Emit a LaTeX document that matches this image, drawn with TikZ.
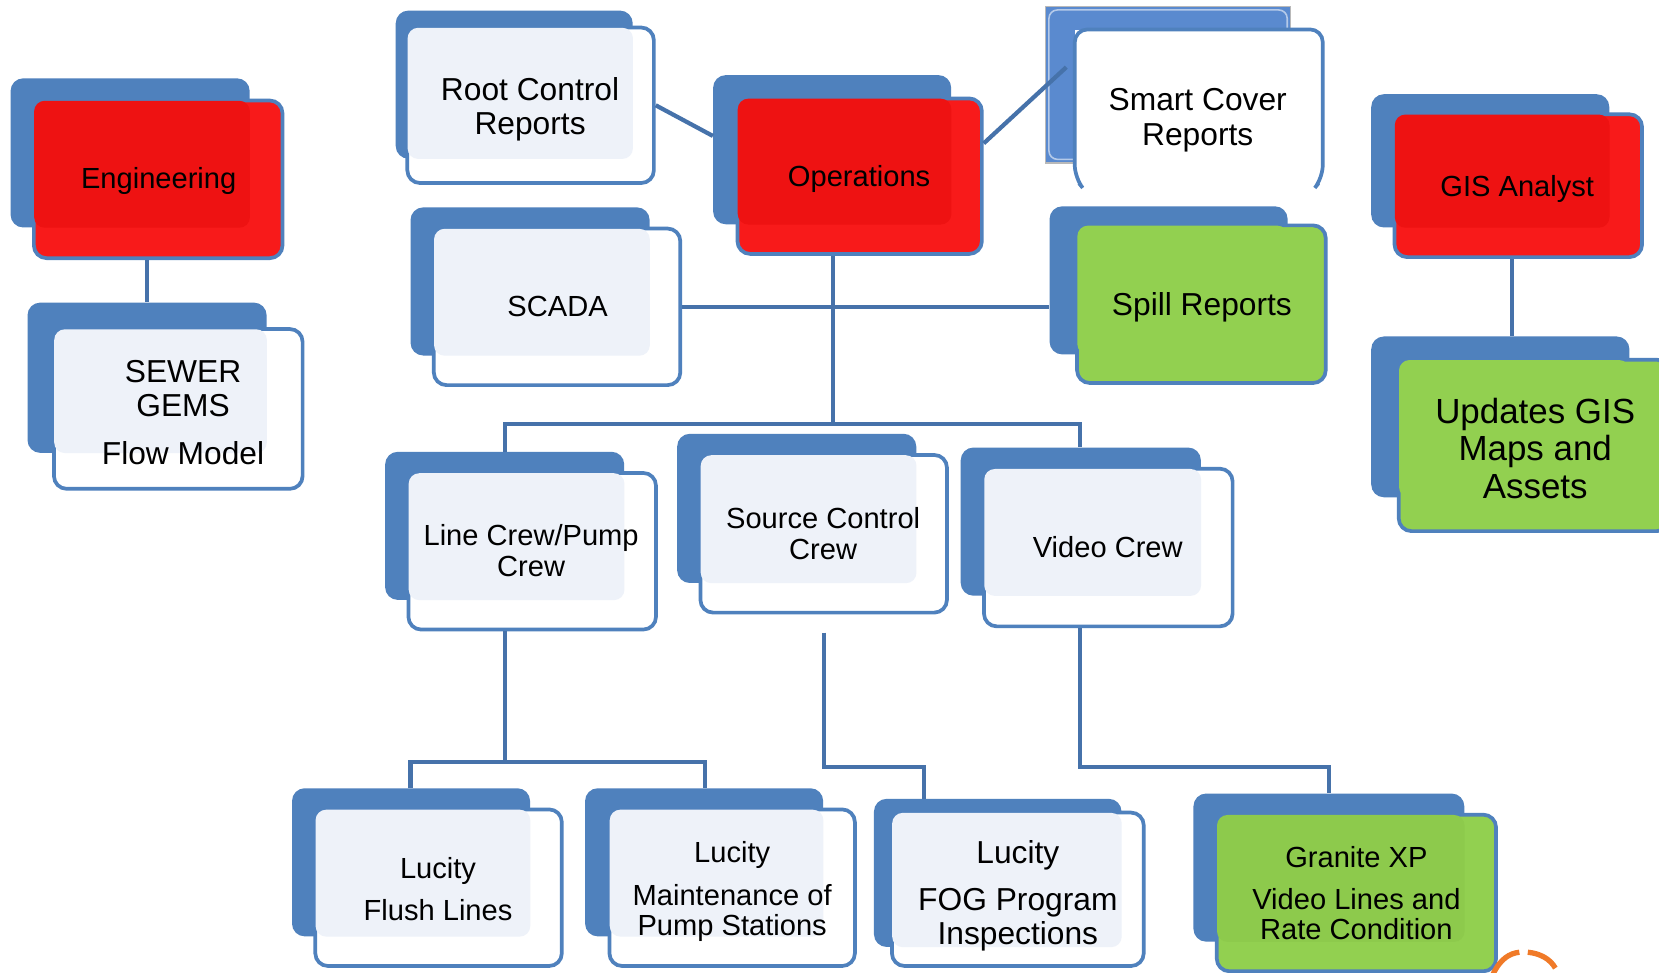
\documentclass[tikz,border=0pt]{standalone}
\usepackage{fontspec}
\setmainfont{Liberation Sans}
\usetikzlibrary{fit}
\definecolor{bblue}{HTML}{4F81BD}
\definecolor{conncol}{HTML}{4672AA}
\definecolor{redf}{HTML}{F81A1A}
\definecolor{redt}{HTML}{EE1212}
\definecolor{greenf}{HTML}{92D050}
\definecolor{greent}{HTML}{8DCA4C}
\definecolor{whitet}{HTML}{EEF2F9}
\definecolor{smartblue}{HTML}{5A8ACF}
\definecolor{logoorange}{HTML}{F07A28}
\tikzset{
  backbox/.style={fill=bblue, draw=none, rounded corners=12pt, inner sep=0pt},
  frontbox/.style={draw=bblue, line width=3.5pt, rounded corners=12pt, inner sep=0pt},
  txt/.style={align=center, inner sep=0pt, text=black},
  conn/.style={draw=conncol, line width=4pt},
}
\newcommand{\fs}[2]{\fontsize{#1pt}{#2pt}\selectfont}
\newcommand{\card}[5]{%
  \node[backbox, fit={#2}] (#1b) {};
  \node[frontbox, fill=#4, fit={#3}] (#1) {};
  \fill[#5, rounded corners=10pt] ([shift={(2pt,-2pt)}]#1.north west) rectangle (#1b.south east);
}
\begin{document}
\begin{tikzpicture}[x=1pt,y=-1pt]
\useasboundingbox (0,0) rectangle (1568,919);
\fill[white] (0,0) rectangle (1568,919);

% cards
\card{eng}{(10,74) (236,215)}{(32,95) (267,244)}{redf}{redt}
\card{sewer}{(26,286) (252,428)}{(51,311) (286,462)}{white}{whitet}
\card{root}{(374,10) (598,150)}{(385,26) (618,173)}{white}{whitet}
\card{ops}{(674,71) (899,212)}{(697,93) (928,240)}{redf}{redt}
\card{scada}{(388,196) (614,336)}{(410,216) (643,364)}{white}{whitet}
\card{spill}{(992,195) (1217,335)}{(1018,213) (1253,362)}{greenf}{greenf}
\card{gis}{(1296,89) (1521,215)}{(1318,108) (1552,243)}{redf}{redt}
\card{upd}{(1296,318) (1540,470)}{(1322,340) (1578,502)}{greenf}{greenf}
\card{line}{(364,427) (590,567)}{(386,447) (620,595)}{white}{whitet}
\card{src}{(640,410) (866,551)}{(662,430) (895,579)}{white}{whitet}
\card{vid}{(908,423) (1135,563)}{(930,443) (1165,592)}{white}{whitet}
\card{flush}{(276,745) (501,885)}{(298,765) (531,913)}{white}{whitet}
\card{pump}{(553,745) (778,885)}{(576,765) (808,913)}{white}{whitet}
\card{fog}{(826,755) (1060,895)}{(843,768) (1081,913)}{white}{whitet}
\card{gran}{(1128,750) (1384,890)}{(1150,770) (1414,918)}{greenf}{greent}

% smart cover card (special look)
\node[fit={(988,6) (1220,154)}, inner sep=0pt, fill=smartblue, draw=gray!55, line width=1.2pt] (smartb) {};
\draw[white!55!smartblue, line width=1.5pt, rounded corners=8pt] ([shift={(4pt,-4pt)}]smartb.north west) rectangle ([shift={(-4pt,4pt)}]smartb.south east);
\node[fit={(1016,28) (1250,173)}, inner sep=0pt, fill=white] (smart) {};
\draw[bblue, line width=3.5pt, rounded corners=12pt] ([xshift=4pt]smart.south west) -- ([yshift=5pt]smart.south west) -- (smart.north west) -- (smart.north east) -- ([yshift=5pt]smart.south east) -- ([xshift=-4pt]smart.south east);

% texts
\node[txt, font=\fs{27.5}{29}] (engt) at (150,171) {Engineering};
\node[txt, font=\fs{30}{32}] (sewert) at (173,390) {SEWER\\GEMS\\[14pt]Flow Model};
\node[txt, font=\fs{30}{32}] (roott) at (501,103) {Root Control\\Reports};
\node[txt, font=\fs{27.5}{29}] (opst) at (812,169) {Operations};
\node[txt, font=\fs{30}{33}] (smartt) at (1132,113.5) {Smart Cover\\Reports};
\node[txt, font=\fs{27.5}{29}] (scadat) at (527,290) {SCADA};
\node[txt, font=\fs{30}{32}] (spillt) at (1136,290) {Spill Reports};
\node[txt, font=\fs{27.5}{29}] (gist) at (1434,179) {GIS Analyst};
\node[txt, font=\fs{33}{35.5}] (updt) at (1451,423.5) {Updates GIS\\Maps and\\Assets};
\node[txt, font=\fs{27.5}{29}] (linet) at (502,520.5) {Line Crew/Pump\\Crew};
\node[txt, font=\fs{27.5}{29}] (srct) at (778,504.5) {Source Control\\Crew};
\node[txt, font=\fs{27.5}{29}] (vidt) at (1047,517) {Video Crew};
\node[txt, font=\fs{27.5}{29}] (flusht) at (414,840) {Lucity\\[11pt]Flush Lines};
\node[txt, font=\fs{27.5}{28}] (pumpt) at (692,842.5) {Lucity\\[13pt]Maintenance of\\Pump Stations};
\node[txt, font=\fs{30}{32}] (fogt) at (962,846.5) {Lucity\\[13pt]FOG Program\\Inspections};
\node[txt, font=\fs{27.5}{28}] (grant) at (1282,844) {Granite XP\\[12pt]Video Lines and\\Rate Condition};

% connector coordinates
\coordinate (c1) at (139,0);
\coordinate (bus) at (787,401);
\coordinate (bl) at (477,401);
\coordinate (br) at (1021,401);
\coordinate (lb) at (477,720);
\coordinate (lbl) at (388,720);
\coordinate (lbr) at (666,720);
\coordinate (s0) at (779,598);
\coordinate (s1) at (873,725);
\coordinate (v0) at (1021,725);
\coordinate (v1) at (1256,725);
\coordinate (g0) at (1429,0);

% connectors
\draw[conn] (eng.south -| c1) -- (sewerb.north -| c1);
\draw[conn] (root.east) -- ([yshift=13pt]opsb.west);
\draw[conn] ([yshift=31pt]ops.east) -- ([shift={(-8pt,37pt)}]smart.west);
\draw[conn] (scada.east) -- (scada.east -| spillb.west);
\draw[conn] (ops.south -| bus) -- (bus);
\draw[conn] (lineb.north -| bl) -- (bl) -- (br) -- (vidb.north -| br);
\draw[conn] (line.south -| lb) -- (lb);
\draw[conn] (flushb.north -| lbl) -- (lbl) -- (lbr) -- (pumpb.north -| lbr);
\draw[conn] (s0) |- (s1) -- (fogb.north -| s1);
\draw[conn] (vid.south -| v0) -- (v0) -- (v1) -- (granb.north -| v1);
\draw[conn] (gis.south -| g0) -- (updb.north -| g0);

% partial orange logo at the bottom edge
\draw[logoorange, line width=5pt] (1411,921) .. controls (1418,906) and (1427,901) .. (1436,900);
\draw[logoorange, line width=5pt] (1444,900) .. controls (1455,901) and (1465,906) .. (1470,915);
\end{tikzpicture}
\end{document}
